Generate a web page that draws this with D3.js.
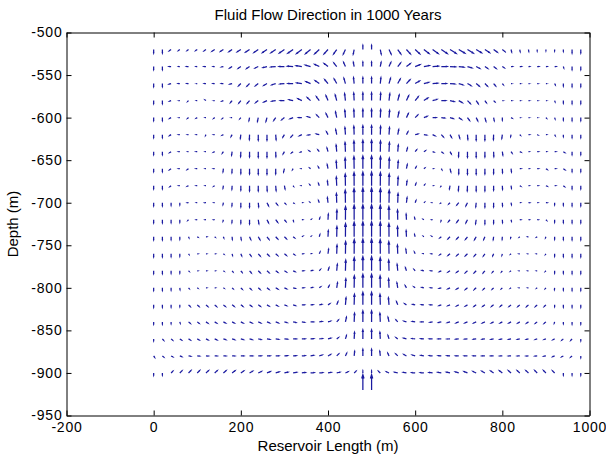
<!DOCTYPE html>
<html>
<head>
<meta charset="utf-8">
<script src="https://cdn.jsdelivr.net/npm/d3@7"></script>
<style>
  body { margin: 0; background: #fff; }
  svg { display: block; }
  text { font-family: "Liberation Sans", Arial, Helvetica, sans-serif; fill: #000; }
</style>
</head>
<body>
<svg id="chart" width="606" height="457"></svg>
<script>
// ---- labels and ticks ----
const chartTitle = "Fluid Flow Direction in 1000 Years";
const xLabel = "Reservoir Length (m)";
const yLabel = "Depth (m)";
const xTicks = [-200, 0, 200, 400, 600, 800, 1000];
const yTicks = [-950, -900, -850, -800, -750, -700, -650, -600, -550, -500];

// ---- sampling grid (m) ----
const gridX = [0, 20, 40, 60, 80, 100, 120, 140, 160, 180, 200, 220, 240, 260, 280, 300, 320, 340, 360, 380,
               400, 420, 440, 460, 480, 500, 520, 540, 560, 580, 600, 620, 640, 660, 680, 700, 720, 740, 760, 780,
               800, 820, 840, 860, 880, 900, 920, 940, 960, 980];
const gridDepth = [-520, -540, -560, -580, -600, -620, -640, -660, -680, -700,
                   -720, -740, -760, -780, -800, -820, -840, -860, -880, -900];

// ---- horizontal velocity, one row per depth (x = 0 ... 980) ----
const uVel = [
  [0,0,-18,-13,-13,-15,-18,-26,-28,-31,-35,-39,-42,-44,-47,-49,-52,-52,-49,-45,-39,-31,-21,-9,0, 0,9,21,31,39,45,51,55,58,60,60,57,52,45,36,26,6,4,3,0,0,0,0,0,0],
  [0,0,-19,-10,-19,-10,-19,-13,-19,-25,-25,-28,-31,-38,-48,-52,-56,-56,-52,-45,-38,-28,-18,-8,0, 0,8,18,28,38,48,54,58,58,55,50,44,35,29,25,19,13,15,10,15,10,13,4,0,0],
  [0,0,-19,-15,-15,-10,-15,-15,-19,-22,-22,-25,-28,-31,-38,-44,-50,-50,-45,-40,-32,-25,-15,-6,0, 0,6,15,25,35,42,48,50,50,48,41,35,30,25,19,10,10,12,10,12,10,6,0,0,0],
  [0,0,-15,-12,-8,-6,-9,-12,-15,-16,-19,-22,-25,-31,-38,-40,-40,-38,-32,-28,-20,-15,-8,-4,0, 0,4,8,15,22,30,38,42,44,40,35,28,20,15,12,10,12,10,12,10,8,4,0,0,0],
  [0,0,-15,-12,-10,-10,-6,-10,-12,-12,-10,-6,-8,-10,-19,-25,-30,-32,-31,-25,-19,-12,-6,-3,0, 0,4,6,12,19,25,31,34,32,31,28,20,15,10,6,0,10,8,10,8,6,4,0,0,0],
  [0,0,-15,-12,-10,-10,-4,-10,-12,-10,-5,-2,0,0,4,-15,-20,-25,-27,-27,-15,-10,-5,-3,0, 0,3,5,10,15,27,27,25,20,15,10,4,0,0,-2,-5,-4,6,10,8,6,6,0,0,0],
  [0,0,-15,-12,-6,-12,-6,-12,-10,-5,-2,0,0,0,2,-12,-15,-12,-15,-14,-10,-6,-4,-2,0, 0,2,4,6,10,14,15,12,15,12,-2,0,0,0,2,5,10,12,6,12,6,12,15,0,0],
  [0,0,-15,-12,-12,-12,-6,-12,-4,-2,0,0,0,0,0,-8,-6,-6,-8,-10,-8,-5,-3,-2,0, 0,2,3,5,8,10,8,6,6,8,0,0,0,0,0,2,4,12,6,12,12,12,15,0,0],
  [0,0,-12,-10,-12,-10,-6,-10,-4,-2,0,0,0,2,4,6,4,-5,-8,-8,-6,-4,-2,-1,0, 0,1,2,4,6,8,8,5,-4,-6,-4,-2,0,0,0,2,4,10,6,10,12,10,12,0,0],
  [0,0,0,0,-10,-6,-10,-6,-4,-2,0,0,4,15,18,12,6,5,-6,-8,-6,-3,-2,-1,0, 0,1,2,3,6,8,6,-5,-6,-12,-18,-15,-4,0,0,2,4,6,10,6,10,0,0,0,0],
  [0,0,0,0,-6,-8,-6,-8,-4,-2,0,0,6,15,19,15,4,6,6,6,3,2,1,0,0, 0,0,-1,-2,-3,-6,-6,-6,-4,-15,-19,-15,-6,0,0,2,4,8,6,8,6,0,0,0,0],
  [0,0,0,0,4,6,6,5,4,2,4,12,16,19,20,19,15,10,5,6,3,2,1,0,0, 0,0,-1,-2,-3,-6,-5,-10,-15,-19,-20,-19,-16,-12,-4,-2,-4,-5,-6,-6,-4,0,0,0,0],
  [0,0,0,0,4,6,5,6,5,4,8,15,19,20,20,19,15,12,6,8,6,3,2,1,0, 0,-1,-2,-3,-6,-8,-6,-12,-15,-19,-20,-20,-19,-15,-8,-4,-5,-6,-5,-6,-4,0,0,0,0],
  [0,0,0,0,6,5,6,5,6,8,12,16,19,20,21,20,18,18,18,12,10,6,3,1,0, 0,-1,-3,-6,-10,-12,-18,-18,-18,-20,-21,-20,-19,-16,-12,-8,-6,-5,-6,-5,-6,0,0,0,0],
  [0,0,0,2,6,6,6,6,7,10,14,17,19,20,22,22,20,20,19,14,12,8,4,2,0, 0,-2,-4,-8,-12,-14,-19,-20,-20,-22,-22,-20,-19,-17,-14,-10,-7,-6,-6,-6,-6,-2,0,0,0],
  [0,0,0,0,17,17,18,18,19,20,20,20,20,21,22,22,22,24,24,24,18,12,6,3,0, 0,-3,-6,-12,-18,-24,-24,-24,-22,-22,-22,-21,-20,-20,-20,-20,-19,-18,-18,-17,-17,0,0,0,0],
  [0,0,0,4,17,18,19,20,22,22,23,24,24,25,26,26,26,26,28,28,25,16,10,4,0, 0,-4,-10,-16,-25,-28,-28,-26,-26,-26,-26,-25,-24,-24,-23,-22,-22,-20,-19,-18,-17,-4,0,0,0],
  [0,12,14,17,18,19,20,22,23,24,25,26,26,28,29,30,31,31,31,30,28,18,10,4,0, 0,-4,-10,-18,-28,-30,-31,-31,-31,-30,-29,-28,-26,-26,-25,-24,-23,-22,-20,-19,-18,-17,-14,-12,0],
  [9,14,16,18,21,22,23,24,25,26,28,29,29,30,30,31,31,31,30,28,25,20,12,5,0, 0,-5,-12,-20,-25,-28,-30,-31,-31,-31,-30,-30,-29,-29,-28,-26,-25,-24,-23,-22,-21,-18,-16,-14,0],
  [0,0,17,21,23,23,25,25,26,28,29,30,31,32,33,34,34,34,34,33,32,30,25,17,0, 0,-17,-25,-30,-32,-33,-34,-34,-34,-34,-33,-32,-31,-30,-29,-28,-26,-25,-25,-23,-23,-21,0,0,0]
];

// ---- vertical velocity (positive = upward), one row per depth ----
const vVel = [
  [-35,-35,-13,-9,-9,-10,-12,-17,-18,-21,-23,-26,-29,-30,-32,-34,-36,-39,-40,-42,-43,-44,-45,-45,40, 40,-45,-45,-44,-43,-42,-40,-39,-39,-38,-36,-35,-32,-30,-26,-21,-24,-22,-18,-15,-12,-15,-18,-35,-35],
  [-30,-30,0,0,0,0,0,0,-4,-16,-18,-19,-15,-10,-4,0,3,8,15,22,30,35,40,42,44, 44,42,40,35,29,19,10,4,0,-3,-6,-13,-19,-20,-19,-13,0,0,0,0,0,0,-13,-30,-30],
  [-30,-30,-6,0,0,0,0,0,0,-6,-22,-25,-22,-19,-12,-4,0,6,19,28,38,45,52,58,60, 60,58,52,45,38,25,12,4,0,-4,-12,-20,-25,-25,-22,-12,0,0,0,0,0,-12,-25,-30,-30],
  [-30,-30,-6,0,-8,0,6,0,-6,-19,-25,-25,-20,-15,-6,0,8,19,29,38,48,56,68,74,76, 76,74,68,56,48,38,25,12,0,-10,-20,-28,-30,-22,-12,0,0,0,0,0,0,-12,-25,-30,-30],
  [-30,-30,-8,0,-8,-6,0,-8,-10,0,-12,-31,-38,-38,-28,-20,-12,0,10,25,38,56,72,80,82, 82,80,72,56,40,25,12,0,-4,-10,-19,-28,-32,-35,-31,-25,-6,0,0,0,-6,-12,-25,-30,-30],
  [-30,-30,-10,0,0,0,-8,0,-6,-19,-38,-50,-55,-55,-50,-25,-22,-12,-4,6,28,50,70,82,88, 88,82,70,50,28,6,-4,-12,-22,-28,-35,-48,-55,-55,-50,-38,-19,-6,0,-4,0,-10,-19,-30,-30],
  [-30,-30,-10,0,0,0,0,-6,-15,-35,-48,-52,-55,-55,-50,-22,-12,-4,10,18,35,65,90,105,112, 112,105,90,65,35,18,10,-4,-12,-22,-50,-55,-55,-52,-48,-35,-15,-6,0,0,0,0,-10,-30,-30],
  [-30,-30,-10,0,-8,0,0,0,-32,-40,-48,-52,-55,-55,-52,-32,-10,0,6,18,40,75,105,120,125, 125,120,105,75,40,18,6,0,-10,-32,-52,-55,-55,-52,-48,-40,-32,0,0,0,-8,0,-10,-30,-30],
  [-30,-30,-10,0,-6,0,0,-6,-25,-35,-44,-50,-52,-52,-48,-32,-6,0,10,22,45,85,115,130,135, 135,130,115,85,45,22,10,0,-6,-32,-48,-52,-52,-50,-44,-35,-25,-6,0,0,-6,0,-10,-30,-30],
  [-30,-30,-25,-22,0,0,0,0,-19,-31,-40,-44,-40,-31,-22,-12,-4,0,5,22,50,90,125,140,145, 145,140,125,90,50,22,5,0,-4,-12,-22,-31,-40,-44,-40,-31,-19,0,0,0,0,-22,-25,-30,-30],
  [-30,-30,-28,-25,-6,0,0,0,-15,-28,-35,-40,-38,-31,-25,-19,-15,0,4,20,55,95,130,145,148, 148,145,130,95,55,20,4,0,-15,-19,-25,-31,-38,-40,-35,-28,-15,0,0,0,-6,-25,-28,-30,-30],
  [-30,-30,-28,-25,-10,-4,0,-4,-12,-25,-28,-28,-28,-25,-22,-19,-12,6,4,22,60,100,130,145,148, 148,145,130,100,60,22,4,6,-12,-19,-22,-25,-28,-28,-28,-25,-12,-4,0,-4,-10,-25,-28,-30,-30],
  [-30,-30,-28,-25,-6,0,0,0,-4,-15,-19,-22,-22,-20,-18,-15,-10,0,2,18,45,85,120,140,145, 145,140,120,85,45,18,2,0,-10,-15,-18,-20,-22,-22,-19,-15,-4,0,0,0,-6,-25,-28,-30,-30],
  [-28,-28,-25,-22,-6,0,0,0,-4,-10,-15,-19,-19,-18,-15,-12,-8,0,4,14,30,65,105,130,140, 140,130,105,65,30,14,4,0,-8,-12,-15,-18,-19,-19,-15,-10,-4,0,0,0,-6,-22,-25,-28,-28],
  [-26,-26,-22,-18,-7,-4,0,0,-5,-10,-14,-17,-17,-16,-13,-10,-6,0,4,10,22,50,90,120,135, 135,120,90,50,22,10,4,0,-6,-10,-13,-16,-17,-17,-14,-10,-5,0,0,-4,-7,-18,-22,-26,-26],
  [-24,-24,-22,-18,-17,-16,-16,-16,-16,-15,-15,-14,-14,-13,-12,-9,-7,0,2,5,12,30,70,105,125, 125,105,70,30,12,5,2,0,-7,-9,-12,-13,-14,-14,-15,-15,-16,-16,-16,-16,-17,-18,-22,-24,-24],
  [-22,-22,-18,-14,-14,-14,-13,-13,-12,-12,-12,-11,-11,-10,-10,-7,-6,-4,0,4,8,18,45,85,110, 110,85,45,18,8,4,0,-4,-6,-7,-10,-10,-11,-11,-12,-12,-12,-13,-13,-14,-14,-14,-18,-22,-22],
  [-18,-14,-12,-12,-11,-11,-10,-10,-8,-8,-7,-7,-6,-5,-4,-2,0,1,2,4,7,14,32,65,90, 90,65,32,14,7,4,2,1,0,-1,-2,-2,-3,-3,-4,-4,-4,-5,-5,-6,-6,-8,-12,-14,-18],
  [-14,-12,-9,-7,-3,-2,-1,0,0,0,0,0,1,1,1,2,2,3,5,9,14,20,26,45,65, 65,45,26,20,14,9,5,3,2,2,1,1,1,0,0,0,0,0,-1,-2,-3,-7,-9,-12,-17],
  [-23,-21,17,21,23,23,23,23,22,21,20,17,15,13,10,8,6,5,3,3,5,7,12,16,20, 20,16,12,7,5,3,3,5,6,8,10,13,15,17,20,21,22,23,23,23,23,21,-21,-21,-23]
];

// ---- inflow at the injection cells below the grid ----
const wellX = [480, 500];
const wellDepth = -920;
const wellU = [0, 0];
const wellV = [153, 153];

// ---- layout ----
const svg = d3.select("#chart");
const x = d3.scaleLinear().domain([-200, 1000]).range([66.5, 589.5]);
const y = d3.scaleLinear().domain([-950, -500]).range([415.5, 32.5]);
const [x0, x1] = x.range();
const [yb, yt] = y.range();

// ---- quiver records ----
const arrows = [];
gridDepth.forEach((d, r) => {
  gridX.forEach((gx, c) => {
    arrows.push({ x: gx, depth: d, u: uVel[r][c], v: vVel[r][c] });
  });
});
wellX.forEach((wx, i) => arrows.push({ x: wx, depth: wellDepth, u: wellU[i], v: wellV[i] }));

// autoscale: longest vector spans 0.9 of one grid cell
const cellPx = Math.abs(y(gridDepth[0]) - y(gridDepth[1]));
const maxSpeed = d3.max(arrows, a => Math.hypot(a.u, a.v));
const lenScale = d3.scaleLinear().domain([0, maxSpeed]).range([0, 0.9 * cellPx]);

function arrowPath(a) {
  const px = x(a.x), py = y(a.depth);
  const du = lenScale(a.u), dv = lenScale(a.v);
  if (Math.hypot(du, dv) < 0.05) return "";
  const tx = px + du, ty = py - dv;
  const alpha = 0.25, beta = 0.3;
  // arrowhead wings (math orientation, then flip y)
  const h1x = tx - alpha * (du + beta * dv);
  const h1y = ty + alpha * (dv - beta * du);
  const h2x = tx - alpha * (du - beta * dv);
  const h2y = ty + alpha * (dv + beta * du);
  return `M${px},${py}L${tx},${ty}M${h1x},${h1y}L${tx},${ty}L${h2x},${h2y}`;
}

svg.append("g")
  .attr("fill", "none")
  .attr("stroke", "#1a1aa0")
  .attr("stroke-width", 1.25)
  .selectAll("path")
  .data(arrows)
  .join("path")
  .attr("d", arrowPath);

// ---- axes (ticks pointing inward on all four sides) ----
const tickLen = 5;
const plain = d => String(d);
const styleAxis = g => {
  g.select(".domain").attr("stroke", "#000").attr("stroke-width", 1);
  g.selectAll(".tick line").attr("stroke", "#000");
  g.selectAll(".tick text")
    .attr("font-family", "\"Liberation Sans\", Arial, sans-serif")
    .attr("fill", "#000")
    .attr("font-size", 14)
    .attr("letter-spacing", "0.8px");
};

svg.append("g")
  .attr("transform", `translate(0,${yb})`)
  .call(d3.axisBottom(x).tickValues(xTicks).tickFormat(plain).tickSizeInner(-tickLen).tickSizeOuter(0).tickPadding(7))
  .call(styleAxis);

svg.append("g")
  .attr("transform", `translate(0,${yt})`)
  .call(d3.axisTop(x).tickValues(xTicks).tickFormat("").tickSizeInner(-tickLen).tickSizeOuter(0))
  .call(styleAxis);

svg.append("g")
  .attr("transform", `translate(${x0},0)`)
  .call(d3.axisLeft(y).tickValues(yTicks).tickFormat(plain).tickSizeInner(-tickLen).tickSizeOuter(0).tickPadding(4))
  .call(styleAxis);

svg.append("g")
  .attr("transform", `translate(${x1},0)`)
  .call(d3.axisRight(y).tickValues(yTicks).tickFormat("").tickSizeInner(-tickLen).tickSizeOuter(0))
  .call(styleAxis);

// ---- titles ----
const midX = (x0 + x1) / 2;
svg.append("text")
  .attr("x", midX).attr("y", 20)
  .attr("text-anchor", "middle")
  .attr("font-size", 15)
  .text(chartTitle);

svg.append("text")
  .attr("x", midX).attr("y", 451)
  .attr("text-anchor", "middle")
  .attr("font-size", 15)
  .text(xLabel);

svg.append("text")
  .attr("transform", `translate(18,${(yt + yb) / 2}) rotate(-90)`)
  .attr("text-anchor", "middle")
  .attr("font-size", 15)
  .text(yLabel);
</script>
</body>
</html>
